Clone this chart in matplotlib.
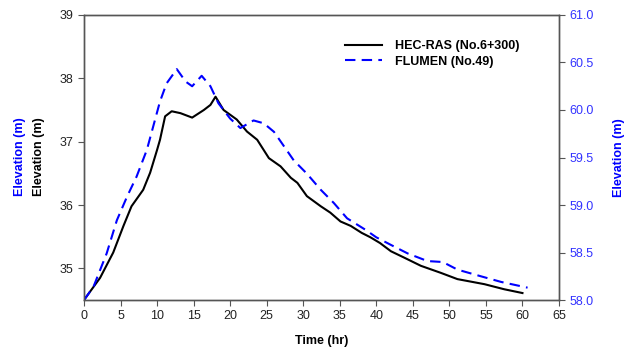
import matplotlib
matplotlib.use("Agg")
import matplotlib.pyplot as plt

plt.rcParams["font.family"] = ["Liberation Sans", "DejaVu Sans"]

# ── Data ───────────────────────────────────────────────────────────
# HEC-RAS (No.6+300), left axis
hec_t = [0, 2.2, 4.0, 5.4, 6.5, 8.1, 9.05, 10.0, 10.4, 11.1, 12.0, 13.2,
         14.8, 16.4, 17.3, 18.0, 19.1, 20.9, 22.3, 23.7, 25.3, 26.9, 28.3,
         29.2, 30.5, 32.4, 33.7, 35.1, 36.5, 38.0, 39.2, 40.5, 42.0, 43.8,
         46.1, 48.8, 51.1, 54.8, 57.5, 60.0]
hec_z = [34.5, 34.85, 35.25, 35.67, 35.98, 36.24, 36.51, 36.87, 37.03, 37.40,
         37.48, 37.45, 37.38, 37.50, 37.58, 37.71, 37.50, 37.35, 37.16, 37.03,
         36.74, 36.61, 36.43, 36.35, 36.14, 35.98, 35.88, 35.74, 35.67, 35.56,
         35.49, 35.40, 35.27, 35.17, 35.04, 34.93, 34.83, 34.75, 34.67, 34.61]

# FLUMEN (No.49), right axis
flu_t = [0, 1.3, 3.1, 4.5, 5.9, 7.2, 8.6, 10.4, 11.3, 12.7, 13.9, 14.8,
         16.1, 17.3, 18.4, 20.0, 21.4, 23.2, 24.6, 26.0, 26.9, 28.7, 30.5,
         32.4, 34.2, 36.0, 38.5, 40.0, 42.0, 44.3, 47.0, 49.1, 51.1, 54.3,
         57.1, 60.7]
flu_z = [58.0, 58.14, 58.49, 58.84, 59.09, 59.30, 59.58, 60.09, 60.28, 60.43,
         60.30, 60.25, 60.36, 60.25, 60.07, 59.91, 59.81, 59.89, 59.86, 59.77,
         59.67, 59.47, 59.33, 59.16, 59.02, 58.86, 58.74, 58.66, 58.58, 58.49,
         58.41, 58.40, 58.32, 58.25, 58.19, 58.13]

x_ticks = list(range(0, 70, 5))
left_ticks = [35, 36, 37, 38, 39]
right_ticks = [58.0, 58.5, 59.0, 59.5, 60.0, 60.5, 61.0]

BLUE = "#0000ff"
SPINE = "#555555"

fig = plt.figure(figsize=(6.25, 3.47), dpi=100)
ax = fig.add_axes([0.1344, 0.1354, 0.76, 0.8214])
ax2 = ax.twinx()

l1, = ax.plot(hec_t, hec_z, color="black", lw=1.5, label="HEC-RAS (No.6+300)")
l2, = ax2.plot(flu_t, flu_z, color=BLUE, lw=1.5, dashes=(5, 3),
               label="FLUMEN (No.49)")

ax.set_xlim(0, 65)
ax.set_ylim(34.5, 39)
ax2.set_ylim(58, 61)
ax.set_xticks(x_ticks)
ax.set_yticks(left_ticks)
ax2.set_yticks(right_ticks)
ax2.set_yticklabels([f"{v:.1f}" for v in right_ticks])

for a in (ax, ax2):
    for s in a.spines.values():
        s.set_color(SPINE)
        s.set_linewidth(1.0)
ax.tick_params(axis="both", colors=SPINE, labelsize=9, length=4,
               direction="out", labelcolor="#222222")
ax2.tick_params(axis="y", colors=SPINE, labelsize=9, length=4,
                direction="out", labelcolor="#3333ff")

ax.set_xlabel("Time (hr)", fontsize=9, fontweight="bold", labelpad=9)
ax2.set_ylabel("Elevation (m)", fontsize=9, fontweight="bold", color=BLUE,
               labelpad=14)
fig.text(0.062, 0.55, "Elevation (m)", rotation=90, fontsize=9,
         fontweight="bold", color="black", ha="center", va="center")
fig.text(0.032, 0.55, "Elevation (m)", rotation=90, fontsize=9,
         fontweight="bold", color=BLUE, ha="center", va="center")

leg = ax.legend(handles=[l1, l2], loc="upper right", frameon=False,
                bbox_to_anchor=(0.94, 0.95), fontsize=9, handlelength=3.0,
                handletextpad=1.0, labelspacing=0.25)
for txt in leg.get_texts():
    txt.set_fontweight("bold")

fig.savefig("out.png", dpi=100)
